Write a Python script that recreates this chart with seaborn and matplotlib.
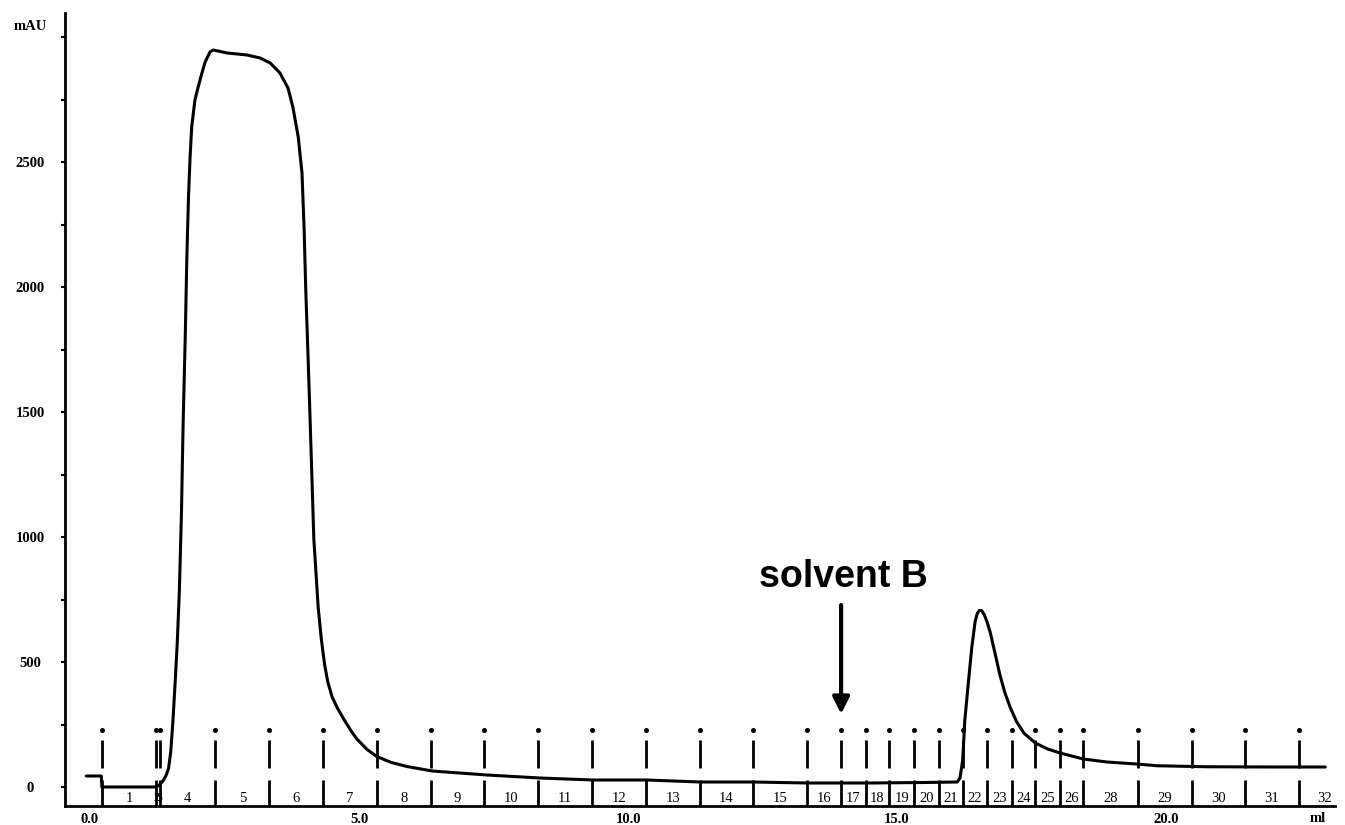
import numpy as np
import pandas as pd
import matplotlib
matplotlib.use("Agg")
import matplotlib.pyplot as plt
import seaborn as sns

# UV trace (elution volume in ml, absorbance in mAU)
volume_ml = [
    -0.07, 0.21, 0.22, 1.20, 1.28, 1.36, 1.42, 1.46, 1.50, 1.54, 1.58, 1.62,
    1.66, 1.70, 1.73, 1.77, 1.80, 1.83, 1.86, 1.89, 1.95, 2.01, 2.08, 2.14,
    2.23, 2.29, 2.55, 2.92, 3.16, 3.35, 3.53, 3.68, 3.77, 3.87, 3.94, 3.98,
    4.01, 4.04, 4.07, 4.12, 4.16, 4.24, 4.30, 4.36, 4.42, 4.50, 4.60, 4.72,
    4.85, 4.96, 5.15, 5.33, 5.60, 5.89, 6.36, 7.38, 8.36, 9.35, 10.35, 11.34,
    12.32, 13.33, 14.50, 15.50, 16.12, 16.17, 16.22, 16.26, 16.33, 16.39,
    16.45, 16.49, 16.53, 16.57, 16.62, 16.67, 16.73, 16.82, 16.91, 17.00,
    17.10, 17.22, 17.36, 17.57, 17.80, 18.03, 18.46, 18.90, 19.45, 19.83,
    20.75, 22.00, 22.96,
]
absorbance_mau = [
    44, 44, 0, 0, 6, 25, 50, 75, 140, 260, 410, 570,
    780, 1100, 1450, 1800, 2120, 2360, 2520, 2640, 2748, 2800, 2856, 2900,
    2940, 2948, 2936, 2928, 2916, 2896, 2856, 2796, 2720, 2600, 2456, 2228,
    1988, 1800, 1608, 1268, 992, 720, 590, 490, 420, 360, 315, 270,
    225, 192, 150, 122, 98, 82, 64, 48, 36, 28, 28, 20,
    20, 16, 16, 18, 20, 36, 108, 268, 428, 560,
    660, 694, 706, 706, 690, 662, 620, 536, 450, 380,
    320, 262, 215, 176, 152, 136, 112, 100, 92, 85,
    81, 80, 80,
]

# Fraction collector marks (start of each tube, ml) and tube numbers
fraction_starts_ml = [
    0.22, 1.23, 1.30, 2.33, 3.33, 4.33, 5.33, 6.33, 7.33, 8.33, 9.33, 10.33,
    11.33, 12.33, 13.33, 13.96, 14.42, 14.85, 15.32, 15.78, 16.23, 16.67,
    17.14, 17.57, 18.03, 18.46, 19.48, 20.48, 21.47, 22.47,
]
fraction_labels = [
    ["1"], ["2", "3"], ["4"], ["5"], ["6"], ["7"], ["8"], ["9"], ["10"],
    ["11"], ["12"], ["13"], ["14"], ["15"], ["16"], ["17"], ["18"], ["19"],
    ["20"], ["21"], ["22"], ["23"], ["24"], ["25"], ["26"], ["28"], ["29"],
    ["30"], ["31"], ["32"],
]

x_ticks = [0, 5, 10, 15, 20]
x_tick_labels = ["0.0", "5.0", "10.0", "15.0", "20.0"]
y_ticks = [0, 500, 1000, 1500, 2000, 2500]
y_minor_ticks = [250, 750, 1250, 1750, 2250, 2750, 3000]
solvent_b_ml = 13.96

sns.set_theme(style="white")
plt.rcParams["font.family"] = ["Liberation Serif", "DejaVu Serif"]

W, H = 1345, 825
fig = plt.figure(figsize=(W / 100, H / 100), dpi=100)
ax = fig.add_axes([65 / W, 19 / H, (1335 - 65) / W, (806 - 13) / H])

trace = pd.DataFrame({"ml": volume_ml, "mAU": absorbance_mau})
sns.lineplot(data=trace, x="ml", y="mAU", color="black", linewidth=2.2,
             sort=False, estimator=None, ax=ax)

ax.set_xlim(-0.465, 23.14)
ax.set_ylim(-76, 3096)

# fraction marks: dot, dash and the tube divider down to the axis
starts = np.array(fraction_starts_ml)
ax.vlines(starts, -76, 28, color="black", linewidth=2)
ax.vlines(starts, 76, 188, color="black", linewidth=2)
ax.plot(starts, np.full_like(starts, 228), linestyle="none", marker="o",
        markersize=2.6, color="black")

tail_width = 0.96
ends = np.append(starts[1:], starts[-1] + tail_width)
for s, e, labs in zip(starts, ends, fraction_labels):
    mid = (s + e) / 2
    n = len(labs)
    size = 10.5 if n == 1 else 8.5
    for k, lab in enumerate(labs):
        off = (k - (n - 1) / 2) * 0.05
        ax.text(mid + off, -44, lab, ha="center", va="center",
                fontsize=size, color="black")

# solvent B arrow
ax.annotate("", xy=(solvent_b_ml, 292), xytext=(solvent_b_ml, 728),
            arrowprops=dict(arrowstyle="-|>", lw=3, color="black",
                            mutation_scale=25, shrinkA=0, shrinkB=0))
ax.text(solvent_b_ml + 0.04, 800, "solvent B", ha="center", va="baseline",
        fontsize=27, fontweight="bold",
        fontfamily=["Liberation Sans", "DejaVu Sans"], color="black")

# axes styling
for side in ("top", "right"):
    ax.spines[side].set_visible(False)
for side in ("left", "bottom"):
    ax.spines[side].set_color("black")
    ax.spines[side].set_linewidth(2)

ax.set_xticks(x_ticks)
ax.set_xticklabels(x_tick_labels, fontweight="bold")
ax.set_yticks(y_ticks)
ax.set_yticklabels([str(v) for v in y_ticks], fontweight="bold")
ax.set_yticks(y_minor_ticks, minor=True)
ax.tick_params(axis="x", length=0, pad=5, labelsize=10.5, colors="black")
ax.tick_params(axis="y", which="both", direction="out", length=3, width=1.5,
               left=True, colors="black")
ax.tick_params(axis="y", which="major", pad=22, labelsize=10.5)
for lbl in ax.get_yticklabels():
    lbl.set_horizontalalignment("center")
ax.set_xlabel("")
ax.set_ylabel("")
ax.grid(False)

fig.text(30 / W, 1 - 27 / H, "mAU", ha="center", va="center",
         fontsize=10.5, fontweight="bold", color="black")
fig.text(1318 / W, 1 - 818 / H, "ml", ha="center", va="center",
         fontsize=10.5, fontweight="bold", color="black")

fig.savefig("out.png", dpi=100, facecolor="white")
